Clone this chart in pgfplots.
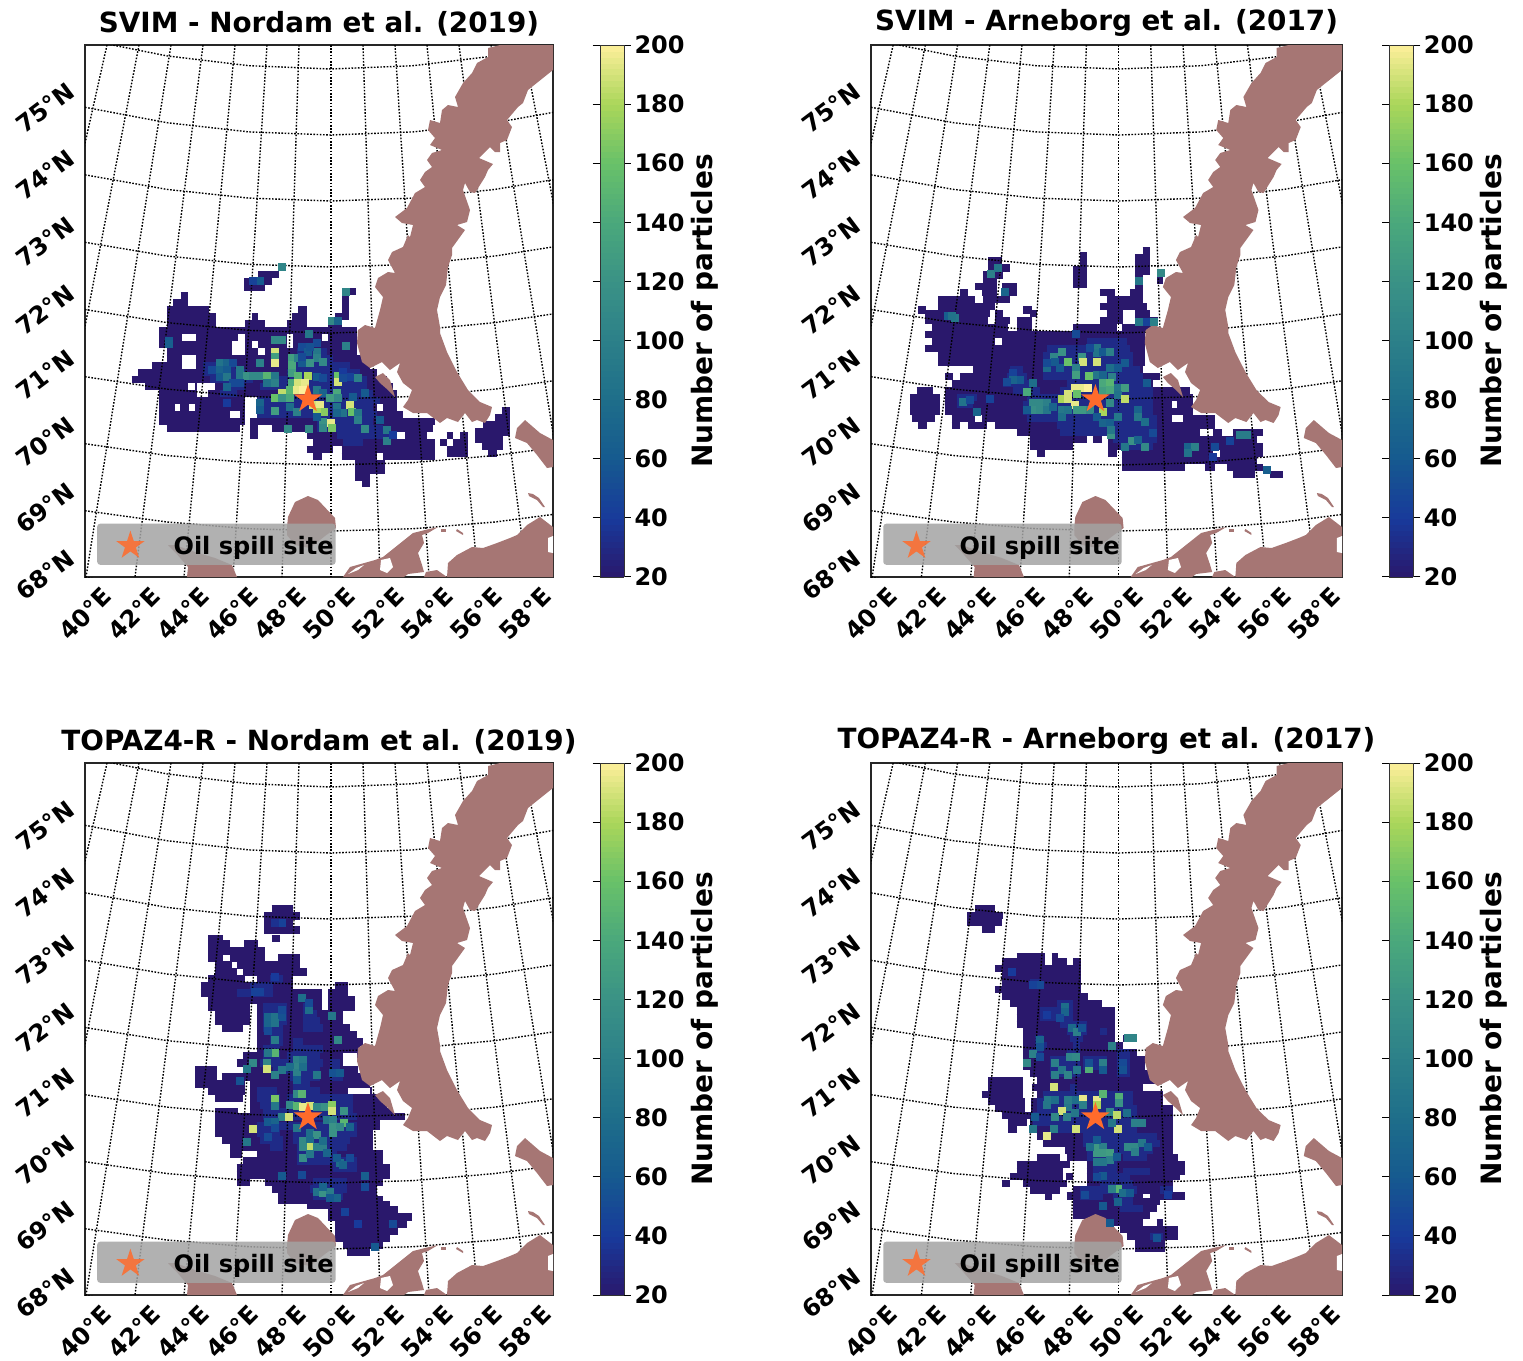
\documentclass[border=0pt]{standalone}
\usepackage{fontspec}
\setmainfont{DejaVu Sans}
\usepackage{pgfplots}
\usepackage{pgfplotstable}
\pgfplotsset{compat=1.18}
\definecolor{land}{RGB}{166,118,116}
\definecolor{low}{RGB}{42,24,108}
\definecolor{halo}{RGB}{31,42,135}
\definecolor{spill}{RGB}{255,107,43}
\pgfplotsset{colormap={haline}{rgb255=(42,24,108) rgb255=(24,58,155) rgb255=(22,90,143) rgb255=(30,110,138) rgb255=(44,128,137) rgb255=(58,146,134) rgb255=(74,168,124) rgb255=(104,193,105) rgb255=(170,214,90) rgb255=(253,239,154)}}
\pgfdeclareplotmark{fstar}{%
\pgfpathmoveto{\pgfpoint{0pt}{15pt}}\pgfpathlineto{\pgfpoint{-3.37pt}{4.64pt}}\pgfpathlineto{\pgfpoint{-14.27pt}{4.64pt}}\pgfpathlineto{\pgfpoint{-5.45pt}{-1.77pt}}\pgfpathlineto{\pgfpoint{-8.82pt}{-12.14pt}}\pgfpathlineto{\pgfpoint{0pt}{-5.73pt}}\pgfpathlineto{\pgfpoint{8.82pt}{-12.14pt}}\pgfpathlineto{\pgfpoint{5.45pt}{-1.77pt}}\pgfpathlineto{\pgfpoint{14.27pt}{4.64pt}}\pgfpathlineto{\pgfpoint{3.37pt}{4.64pt}}\pgfpathclose\pgfusepathqfill}
\newcommand{\lf}{\fontsize{24}{26}\selectfont\bfseries}
% ---- panel 1 base rows (crop coordinates)
\pgfplotstableread{
y a b
73 415 478
94 372 456
112 372 435
125 667 709
136 182 205
136 667 688
157 160 205
157 667 688
178 140 268
178 535 560
178 667 688
199 140 288
199 395 415
199 515 560
199 646 688
220 140 288
220 375 435
220 500 560
220 625 667
241 118 710
262 118 185
262 228 355
262 375 500
262 520 605
262 625 710
283 118 335
283 375 395
283 415 500
283 520 710
304 140 335
304 375 415
304 435 710
325 140 185
325 228 735
346 97 185
346 228 750
367 55 770
388 35 800
409 75 205
409 225 230
409 285 820
430 118 230
430 265 830
451 118 375
451 415 830
472 118 165
472 180 207
472 225 375
472 410 770
472 790 830
493 118 330
493 360 375
493 410 850
514 118 375
514 390 945
535 140 360
535 390 415
535 455 940
556 390 415
556 560 830
556 855 920
556 980 1000
556 1020 1045
577 580 945
577 960 982
577 998 1045
598 560 640
598 665 945
598 980 1045
609 980 1045
619 580 605
619 665 770
619 790 945
640 705 795
661 705 795
682 705 750
700 725 750
483 1145 1170
504 1125 1170
525 1090 1170
546 1065 1170
567 1065 1150
588 1085 1150
609 1105 1130
}\baseA
\pgfplotstableread{
y a b
304 530 620
325 505 640
346 250 345
346 505 690
367 250 380
367 500 720
388 270 400
388 440 740
409 310 375
409 420 740
430 300 350
430 480 760
451 410 780
472 410 760
493 410 770
514 590 760
535 590 790
556 650 830
577 670 730
}\haloA
\pgfplotstableread{
x y v
487 52 105
420 92 60
400 92 45
677 125 105
635 213 110
655 213 70
568 252 90
147 272 60
147 283 65
465 270 110
486 270 110
677 288 100
465 305 190
465 320 130
465 340 195
420 340 100
515 325 130
515 345 140
535 325 100
545 290 50
565 305 60
590 305 90
590 325 100
610 335 110
570 340 120
545 340 60
300 340 85
320 340 70
340 340 50
275 360 50
300 360 70
320 360 60
360 360 90
300 380 60
320 380 90
360 380 90
380 378 120
400 378 110
420 378 110
440 378 150
465 378 90
340 400 50
320 410 70
360 400 50
440 400 85
465 400 100
515 370 130
535 378 150
565 378 180
655 378 160
655 395 190
590 380 60
610 385 50
515 400 140
535 400 190
555 400 195
510 420 150
485 430 185
530 420 195
550 420 200
465 445 160
485 445 120
510 445 140
590 420 90
610 430 70
650 430 140
655 445 110
630 445 130
420 460 70
420 480 60
465 482 130
510 470 80
530 485 100
580 465 190
600 465 195
612 485 170
590 485 180
650 470 85
690 465 190
695 485 160
670 490 85
650 490 70
610 515 120
632 520 195
635 535 165
610 535 110
590 500 60
715 490 90
715 510 100
735 538 110
505 538 110
568 538 110
780 510 60
800 540 90
800 572 100
820 555 40
715 385 100
690 380 45
670 365 40
670 385 50
735 430 60
545 320 50
590 280 50
570 290 55
320 460 40
700 440 60
}\cellA
% ---- panel 2
\pgfplotstableread{
y a b
32 728 750
48 540 560
53 705 750
63 265 305
69 540 560
74 705 750
84 265 330
90 520 560
95 705 750
105 250 310
111 520 560
116 705 730
122 772 790
126 250 290
132 520 560
137 705 730
140 225 290
140 305 350
157 180 205
157 245 290
157 305 350
157 600 645
157 690 730
178 115 225
178 250 330
178 620 730
199 115 285
199 600 740
210 55 78
210 370 395
220 75 270
220 285 310
220 390 412
220 620 670
220 705 750
241 75 265
241 285 330
241 350 395
241 600 670
241 705 775
262 97 325
262 350 395
262 520 650
262 665 755
283 75 735
304 97 285
304 305 735
325 75 735
346 115 735
367 115 735
388 220 730
409 135 160
409 180 780
430 155 760
451 50 100
451 135 870
472 30 120
472 135 880
493 30 120
493 135 815
493 830 880
514 30 120
514 135 880
535 35 105
535 155 225
535 245 815
535 850 945
556 55 80
556 155 180
556 205 260
556 285 945
577 350 900
577 940 965
577 1000 1090
598 390 560
598 580 605
598 625 1070
619 390 520
619 625 1090
640 410 435
640 625 650
640 665 940
640 960 1090
661 665 1070
682 665 855
682 915 945
682 980 1090
703 1000 1065
703 1110 1150
}\baseB
\pgfplotstableread{
y a b
304 560 680
325 440 690
346 430 700
367 430 700
388 330 370
388 430 720
409 320 380
409 430 730
430 310 400
430 500 750
451 340 420
451 480 760
472 170 230
472 380 760
493 170 220
493 370 760
514 370 760
535 380 770
556 470 770
577 480 770
598 640 770
619 660 760
}\haloB
\pgfplotstableread{
x y v
272 102 100
294 85 90
316 157 70
145 228 65
165 235 90
155 228 85
717 122 90
717 245 90
740 245 45
762 245 100
528 283 50
782 100 110
485 335 120
462 352 105
590 325 90
590 340 85
570 325 50
610 335 60
630 335 100
545 352 120
505 367 160
548 367 190
590 367 190
465 367 60
440 385 75
440 370 50
480 385 60
528 385 100
528 405 130
568 407 160
590 405 90
610 405 70
630 385 80
635 410 100
675 370 60
655 385 60
525 445 195
545 445 195
565 445 200
505 462 190
485 478 180
505 478 190
530 462 160
525 495 195
610 430 140
630 430 150
610 452 130
630 450 140
655 445 90
675 445 130
655 465 85
675 478 185
630 490 110
380 455 140
400 430 80
360 420 60
340 400 45
340 420 70
320 425 50
400 490 110
420 490 110
440 490 100
400 510 115
420 510 110
440 510 90
380 510 60
460 500 70
485 510 90
485 530 80
505 510 85
530 510 125
550 510 125
570 510 110
610 515 180
590 530 60
190 485 85
210 480 50
232 515 70
270 478 45
610 550 70
630 550 65
655 530 90
715 510 70
715 530 90
735 545 80
740 430 60
632 585 120
632 570 90
695 603 120
675 620 90
735 620 110
715 600 70
760 580 50
1020 585 95
1040 585 95
990 603 45
865 620 70
885 620 100
865 640 85
945 620 50
1100 690 65
940 650 40
}\cellB
% ---- panel 3
\pgfplotstableread{
y a b
27 275 340
48 253 360
69 253 340
90 253 360
115 85 130
115 275 300
132 85 150
132 192 235
153 85 255
174 85 130
174 150 255
174 295 360
195 105 155
195 170 360
216 105 170
216 190 380
237 85 195
237 230 340
258 62 340
258 465 505
279 62 425
279 445 505
300 85 425
300 445 525
321 85 210
321 232 425
321 445 525
342 105 210
342 232 490
363 105 210
363 232 490
384 125 190
384 232 510
405 232 530
426 232 550
447 232 540
468 190 490
468 530 540
489 170 490
510 45 110
510 190 535
531 45 110
531 125 380
531 400 550
552 45 195
552 210 570
573 85 195
573 210 505
573 570 575
594 105 190
594 210 600
615 210 620
636 105 175
636 210 640
650 105 675
660 105 600
678 105 600
699 105 580
720 127 580
741 150 580
762 150 185
762 230 610
783 190 610
804 170 630
825 170 630
846 170 210
846 255 610
867 275 590
888 295 590
900 295 610
915 380 630
930 445 655
951 445 695
972 465 680
993 465 655
1014 465 630
1035 490 610
1056 500 570
}\baseC
\pgfplotstableread{
y a b
237 270 310
258 210 280
279 170 280
321 250 320
321 370 400
342 250 320
342 370 410
363 250 320
363 370 420
384 250 310
384 370 430
405 270 310
426 270 310
426 340 370
447 250 300
447 340 430
468 250 300
468 320 420
489 240 430
489 450 480
510 280 420
510 450 480
531 330 420
531 450 490
552 340 390
573 230 290
573 340 420
594 230 300
594 320 520
615 240 300
615 320 520
636 250 520
650 250 530
678 230 530
699 230 300
699 340 530
720 240 310
720 340 510
741 270 310
741 350 500
762 350 470
783 350 530
804 460 530
846 400 500
867 390 500
888 400 490
}\haloC
\pgfplotstableread{
x y v
285 232 40
305 70 45
285 70 35
240 275 45
225 275 45
365 295 80
388 330 80
388 310 50
455 348 90
265 350 70
285 350 85
305 350 55
265 370 70
285 370 85
265 392 50
285 420 95
305 330 50
475 420 110
285 458 150
265 458 90
350 480 100
370 480 90
350 500 105
330 500 80
305 510 90
285 525 100
350 520 100
370 500 80
410 525 90
350 540 60
220 490 110
200 508 90
262 490 110
262 508 190
180 543 55
460 520 55
480 520 60
350 582 110
365 582 150
285 598 165
285 618 90
330 615 110
350 618 150
368 622 195
390 618 190
410 620 110
435 620 120
455 615 170
455 632 190
493 632 120
305 650 100
328 650 190
440 660 90
460 660 100
493 668 150
460 680 120
480 680 110
510 680 70
460 700 120
220 688 190
265 665 60
285 665 70
285 685 50
200 725 90
265 710 50
350 685 90
390 700 80
410 705 120
368 722 110
390 722 80
388 742 185
368 742 110
410 742 100
430 742 100
368 775 115
390 762 90
430 722 80
440 760 70
480 790 80
470 775 60
510 775 50
488 795 70
365 825 50
305 828 60
555 828 65
410 875 85
430 880 120
450 875 95
430 860 70
470 895 70
450 895 60
555 860 50
640 972 50
495 935 45
535 972 40
585 1040 60
}\cellC
% ---- panel 4
\pgfplotstableread{
y a b
25 45 105
46 22 130
67 22 125
88 65 105
170 170 255
170 275 295
185 125 255
185 275 320
185 340 362
205 105 362
226 125 362
247 125 362
268 105 362
289 125 385
310 150 425
331 170 465
352 170 465
373 170 465
394 190 465
415 190 465
415 490 528
436 190 490
457 190 530
478 190 555
499 190 555
520 210 570
541 85 190
541 230 590
562 85 190
562 215 550
583 65 190
583 230 610
604 85 195
604 212 610
625 105 195
625 212 640
646 125 640
667 145 200
667 210 640
688 145 170
688 230 640
709 230 640
730 250 640
751 315 640
772 230 300
772 320 655
793 170 330
793 380 675
814 170 310
814 380 675
830 150 310
830 318 340
830 380 660
851 125 150
851 190 320
851 380 640
870 210 300
870 340 640
888 255 275
888 320 550
888 570 675
905 340 600
926 340 590
947 340 570
968 460 550
968 590 610
989 480 655
1010 500 655
1031 525 615
1045 525 615
}\baseD
\pgfplotstableread{
y a b
247 210 240
310 290 340
331 240 340
352 240 340
373 300 380
394 320 380
394 420 440
415 225 250
415 330 370
436 225 260
436 340 360
457 210 250
457 320 360
457 470 510
478 270 360
478 370 440
478 470 510
499 270 360
499 370 440
499 470 510
520 270 360
520 470 510
562 330 350
583 250 520
604 230 520
625 230 530
646 220 530
667 220 530
688 270 530
709 370 590
730 370 600
751 380 580
772 380 470
772 490 560
793 400 470
814 400 470
814 490 570
830 400 510
851 420 520
870 360 530
870 600 640
888 360 430
888 460 520
905 470 520
926 480 550
1010 570 610
}\haloD
\pgfplotstableread{
x y v
240 255 50
220 255 45
155 215 40
315 320 80
315 335 70
300 355 50
335 385 75
350 395 100
365 385 55
260 345 40
240 420 70
240 440 55
505 415 105
520 415 105
455 438 100
220 462 100
200 490 110
240 470 50
330 472 105
348 470 110
285 490 100
305 510 90
350 510 90
285 525 100
325 525 105
388 507 145
430 490 100
388 490 55
430 510 60
490 490 50
490 510 55
283 562 190
265 600 90
285 600 80
260 615 90
368 598 195
410 600 195
430 582 150
410 615 180
478 590 145
478 610 120
368 615 100
345 600 80
325 620 90
325 600 95
305 632 190
285 650 110
345 640 90
320 650 100
450 635 110
470 645 185
500 640 80
545 668 100
525 668 100
475 688 190
455 668 90
348 688 190
283 688 95
262 707 195
220 688 90
225 650 60
410 740 125
430 740 100
410 760 125
430 760 125
450 760 130
450 780 100
390 740 80
410 785 90
430 785 90
470 770 60
505 740 110
525 740 110
545 730 90
525 755 100
565 740 60
410 720 60
430 828 60
410 830 50
475 868 150
455 868 100
490 880 80
510 880 60
430 918 60
375 885 50
475 905 70
590 1015 55
450 968 60
625 885 40
}\cellD
\newcommand{\gridlines}{%
\foreach \xa/\xb in {107/-12,139/37,171/86,203/135,235/184,267/233,299/282,331/331,363/380,395/429,427/478,459/527,491/576,523/625}{%
\edef\temp{\noexpand\addplot[gl,forget plot] coordinates {(\xa,45)(\xb,577)};}\temp}%
\addplot[gl,forget plot] coordinates {(85,577.5)(167,588.3)(249,594.8)(331,597)(413,594.8)(495,588.3)(553,581.1)};
\addplot[gl,forget plot] coordinates {(85,510.7)(167,522)(249,528.7)(331,531)(413,528.7)(495,522)(553,514.4)};
\addplot[gl,forget plot] coordinates {(85,443.7)(167,455.5)(249,462.6)(331,465)(413,462.6)(495,455.5)(553,447.7)};
\addplot[gl,forget plot] coordinates {(85,376.7)(167,389.1)(249,396.5)(331,399)(413,396.5)(495,389.1)(553,380.8)};
\addplot[gl,forget plot] coordinates {(85,309.5)(167,322.6)(249,330.4)(331,333)(413,330.4)(495,322.6)(553,313.9)};
\addplot[gl,forget plot] coordinates {(85,242.3)(167,256)(249,264.3)(331,267)(413,264.3)(495,256)(553,246.9)};
\addplot[gl,forget plot] coordinates {(85,174.8)(167,189.4)(249,198.1)(331,201)(413,198.1)(495,189.4)(553,179.7)};
\addplot[gl,forget plot] coordinates {(85,107.3)(167,122.7)(249,131.9)(331,135)(413,131.9)(495,122.7)(553,112.4)};
\addplot[gl,forget plot] coordinates {(85,39.5)(167,55.9)(249,65.7)(331,69)(413,65.7)(495,55.9)(553,45)};
}
\newcommand{\landmasses}{%
\addplot[fill=land,draw=none,forget plot] coordinates {(554,45)(553,70)(543,78)(528,90)(523,103)(518,107)(507,120)(512,127)(507,140)(500,143)(500,152)(495,152)(490,147)(479,158)(493,164)(488,170)(485,177)(475,193)(470,192)(465,183)(463,190)(470,210)(467,222)(457,225)(465,230)(452,248)(452,255)(448,267)(446,285)(440,297)(437,310)(440,327)(440,333)(447,352)(457,372)(468,390)(480,402)(492,407)(490,415)(485,423)(477,420)(472,422)(465,413)(458,422)(447,418)(440,423)(427,413)(413,413)(403,407)(408,400)(412,390)(403,383)(397,372)(400,363)(390,370)(382,362)(370,368)(362,362)(357,343)(358,330)(365,325)(375,328)(380,310)(383,297)(375,287)(378,278)(388,272)(395,273)(388,260)(392,252)(403,247)(408,235)(410,237)(413,225)(402,223)(395,217)(407,208)(415,193)(425,187)(420,180)(425,172)(432,167)(427,160)(432,153)(442,150)(430,145)(435,138)(428,130)(430,120)(440,123)(442,110)(448,105)(458,107)(455,97)(463,83)(472,73)(477,63)(488,57)(488,48)(500,45)} --cycle;
\addplot[fill=land,draw=none,forget plot] coordinates {(375,377)(383,373)(390,380)(395,397)(388,390)(380,383)} --cycle;
\addplot[fill=land,draw=none,forget plot] coordinates {(525,420)(517,428)(515,438)(527,443)(537,455)(547,468)(553,467)(553,440)(540,433)} --cycle;
\addplot[fill=land,draw=none,forget plot] coordinates {(528,493)(533,494)(539,498)(545,507)(543,507)(537,500)(529,496)} --cycle;
\addplot[fill=land,draw=none,forget plot] coordinates {(447,577)(448,563)(457,555)(472,547)(483,548)(497,543)(510,538)(517,535)(527,525)(540,517)(553,527)(553,577)} --cycle;
\addplot[fill=white,draw=none,forget plot] coordinates {(548,538)(553,536)(553,553)(548,552)} --cycle;
\addplot[fill=land,draw=none,forget plot] coordinates {(343,577)(350,567)(375,560)(383,557)(398,545)(413,533)(425,530)(438,527)(428,533)(422,535)(424,543)(418,553)(422,565)(424,572)(408,574)(404,577)} --cycle;
\addplot[fill=white,draw=none,forget plot] coordinates {(381,560)(390,558)(393,567)(387,573)(380,570)} --cycle;
\addplot[fill=white,draw=none,forget plot] coordinates {(348,574)(356,568)(364,565)(358,570)} --cycle;
\addplot[fill=land,draw=none,forget plot] coordinates {(424,577)(426,572)(437,570)(447,577)} --cycle;
\addplot[fill=land,draw=none,forget plot] coordinates {(441,529)(446,529)(446,532)(441,532)} --cycle;
\addplot[fill=land,draw=none,forget plot] coordinates {(457,529)(463,533)(463,535)(456,531)} --cycle;
\addplot[fill=land,draw=none,forget plot] coordinates {(168,545)(175,552)(188,567)(187,577)(237,577)(232,565)(215,558)(195,552)(175,545)} --cycle;
\addplot[fill=land,draw=none,forget plot] coordinates {(287,527)(288,517)(295,502)(308,496)(318,500)(335,518)(336,528)(325,536)(310,548)(295,545)(287,535)} --cycle;
}
\newcommand{\runs}[5]{%
\addplot[draw=none,mark=none,forget plot,error bars/.cd,x dir=plus,x explicit,error mark=none,error bar style={line width=7.2pt,color=#5,solid}]
  table[x expr=\thisrow{a}*#2/3+#3,y expr=\thisrow{y}/3+#4,x error expr=(\thisrow{b}-\thisrow{a})*#2/3] {#1};}
% #1 left, #2 bottom (as a negative page position), #3 width, #4 title, #5 scale, #6 x offset, #7 y offset, #8 base rows, #9 coloured cells; \halotab names the mid-blue rows
\newcommand{\panel}[9]{%
\begin{axis}[
  at={(#1pt,#2pt)},anchor=south west,scale only axis,width=#3pt,height=532pt,
  xmin=85,xmax=553,ymin=45,ymax=577,y dir=reverse,
  axis line style={line width=1.4pt,black!85},
  title={#4},title style={font=\fontsize{27.8}{30}\selectfont\bfseries,yshift=-1pt},
  xtick={85,134,183,232,280,329,378,427,476,525},
  xticklabels={40°E,42°E,44°E,46°E,48°E,50°E,52°E,54°E,56°E,58°E},
  ytick={108,175,242,310,375,442,508,575},
  yticklabels={75°N,74°N,73°N,72°N,71°N,70°N,69°N,68°N},
  major tick length=0pt,
  tick label style={font=\lf},
  x tick label style={rotate=45,anchor=center,xshift=-26pt,yshift=-26pt},
  y tick label style={rotate=37,anchor=center,xshift=-31.9pt,yshift=24.1pt},
  colormap name=haline,point meta min=20,point meta max=200,
  gl/.style={draw=black,line width=1.4pt,dash pattern=on 1.6pt off 1.6pt},
  colorbar sampled,
  colorbar style={at={(1.1004,1)},anchor=north west,width=24pt,height=532pt,samples=91,
    ytick={20,40,...,200},yticklabel pos=right,
    major tick length=7pt,tick align=outside,
    tick label style={font=\lf,/pgf/number format/assume math mode=true,rotate=0,xshift=0pt,yshift=0pt},
    y tick label style={rotate=0,anchor=west,xshift=0pt,yshift=0pt},
    ytick style={black,line width=1pt},
    axis line style={line width=0.8pt,black!80},
    ylabel={Number of particles},
    ylabel style={font=\fontsize{28}{30}\selectfont\bfseries,at={(axis description cs:4.37,0.5)},anchor=center,rotate=0}},
  legend style={at={(axis cs:97,565)},anchor=south west,rounded corners=3pt,draw=none,fill=black!36,fill opacity=0.85,text opacity=1,font=\lf,inner xsep=0pt,inner ysep=7pt},
  legend cell align=left,
  legend image code/.code={\path (0pt,0pt) (74pt,0pt);\draw[mark repeat=2,mark phase=2,##1] plot coordinates {(5pt,0pt)(33pt,0pt)(60pt,0pt)};},
]
\runs{#8}{#5}{#6}{#7}{low}
\expandafter\runs\expandafter{\halotab}{#5}{#6}{#7}{halo}
\addplot[scatter,only marks,mark=square*,mark size=3.6pt,forget plot,scatter src=explicit,scatter/use mapped color={draw=mapped color,fill=mapped color,line width=0pt}]
  table[x expr=\thisrow{x}*#5/3+#6,y expr=\thisrow{y}/3+#7,meta=v] {#9};
\gridlines
\landmasses
\addplot[only marks,mark=fstar,color=spill,mark options={fill=spill,draw=none}] coordinates {(308,399)};
\addlegendentry{Oil spill site\hspace{10pt}}
\end{axis}}
\begin{document}
\begin{tikzpicture}
\path[use as bounding box] (0pt,0pt) rectangle (1523pt,-1360pt);
\def\halotab{\haloA}
\panel{85}{-577}{468}{SVIM - Nordam et al. (2019)}{1}{120}{250}{\baseA}{\cellA}
\def\halotab{\haloB}
\panel{871}{-577}{471}{SVIM - Arneborg et al. (2017)}{0.9936}{113.8}{240}{\baseB}{\cellB}
\def\halotab{\haloC}
\panel{85}{-1295}{468}{TOPAZ4-R - Nordam et al. (2019)}{1}{180}{182}{\baseC}{\cellC}
\def\halotab{\haloD}
\panel{871}{-1295}{471}{TOPAZ4-R - Arneborg et al. (2017)}{0.9936}{173.4}{182}{\baseD}{\cellD}
\end{tikzpicture}
\end{document}
